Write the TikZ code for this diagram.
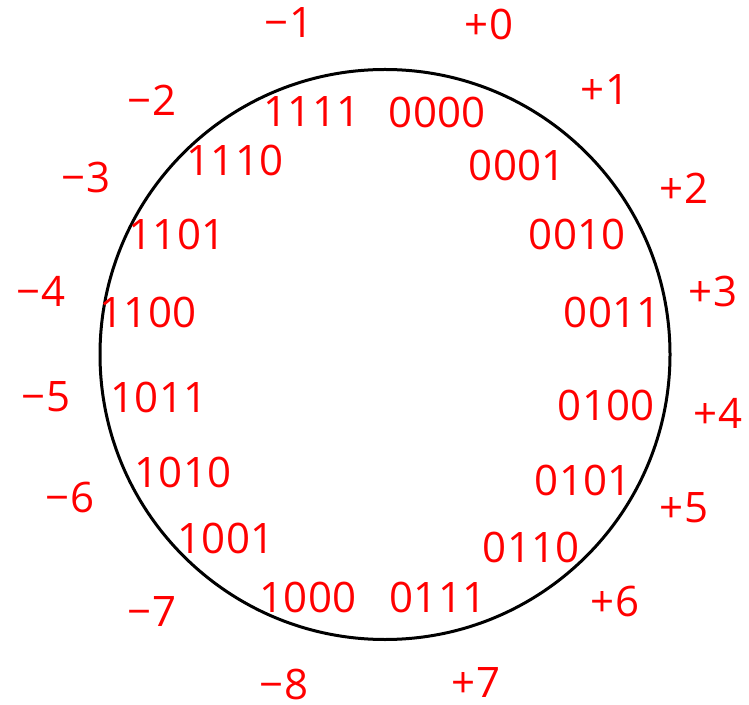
\documentclass[tikz,border=0pt]{standalone}
\usepackage{fontspec}
\setmainfont{Open Sans}
\usepackage{tikz}
\usetikzlibrary{positioning}
\definecolor{codeRed}{RGB}{255,0,0}

\begin{document}
\begin{tikzpicture}[
  x=0.5pt,y=-0.5pt,
  ring/.style={circle,draw=black,line width=1.5pt,minimum size=285pt,inner sep=0pt},
  bits/.style={text=codeRed,font=\fontsize{21}{25}\selectfont,inner sep=0pt},
  val/.style={text=codeRed,font=\fontsize{21}{25}\selectfont,inner sep=0pt}
]
  \useasboundingbox (0,0) rectangle (749,705);
  \node[ring](ring) at (385,354.5) {};
  % bit patterns inside the ring
  \node[bits](b0000) at (437,112) {0000};
  \node[bits](b0001) at (517,165) {0001};
  \node[bits](b0010) at (577,234) {0010};
  \node[bits](b0011) at (612,312) {0011};
  \node[bits](b0100) at (606,405) {0100};
  \node[bits](b0101) at (583,480) {0101};
  \node[bits](b0110) at (531,547) {0110};
  \node[bits](b0111) at (438,597) {0111};
  \node[bits](b1000) at (308,597) {1000};
  \node[bits](b1001) at (226,538) {1001};
  \node[bits](b1010) at (183,472) {1010};
  \node[bits](b1011) at (159,397) {1011};
  \node[bits](b1100) at (148,312) {1100};
  \node[bits](b1101) at (177,234) {1101};
  \node[bits](b1110) at (235,160) {1110};
  \node[bits](b1111) at (312,112) {1111};
  % signed values outside the ring
  \node[val](p0) at (489,24)  {+0};
  \node[val](p1) at (605,90)  {+1};
  \node[val](p2) at (684,188) {+2};
  \node[val](p3) at (713,292) {+3};
  \node[val](p4) at (718,413) {+4};
  \node[val](p5) at (684,508) {+5};
  \node[val](p6) at (615,601) {+6};
  \node[val](p7) at (476,683) {+7};
  \node[val](m8) at (284,684) {−8};
  \node[val](m7) at (152,612) {−7};
  \node[val](m6) at (70,497)  {−6};
  \node[val](m5) at (46,397)  {−5};
  \node[val](m4) at (41,291)  {−4};
  \node[val](m3) at (86,178)  {−3};
  \node[val](m2) at (152,100) {−2};
  \node[val](m1) at (289,23)  {−1};
\end{tikzpicture}
\end{document}
